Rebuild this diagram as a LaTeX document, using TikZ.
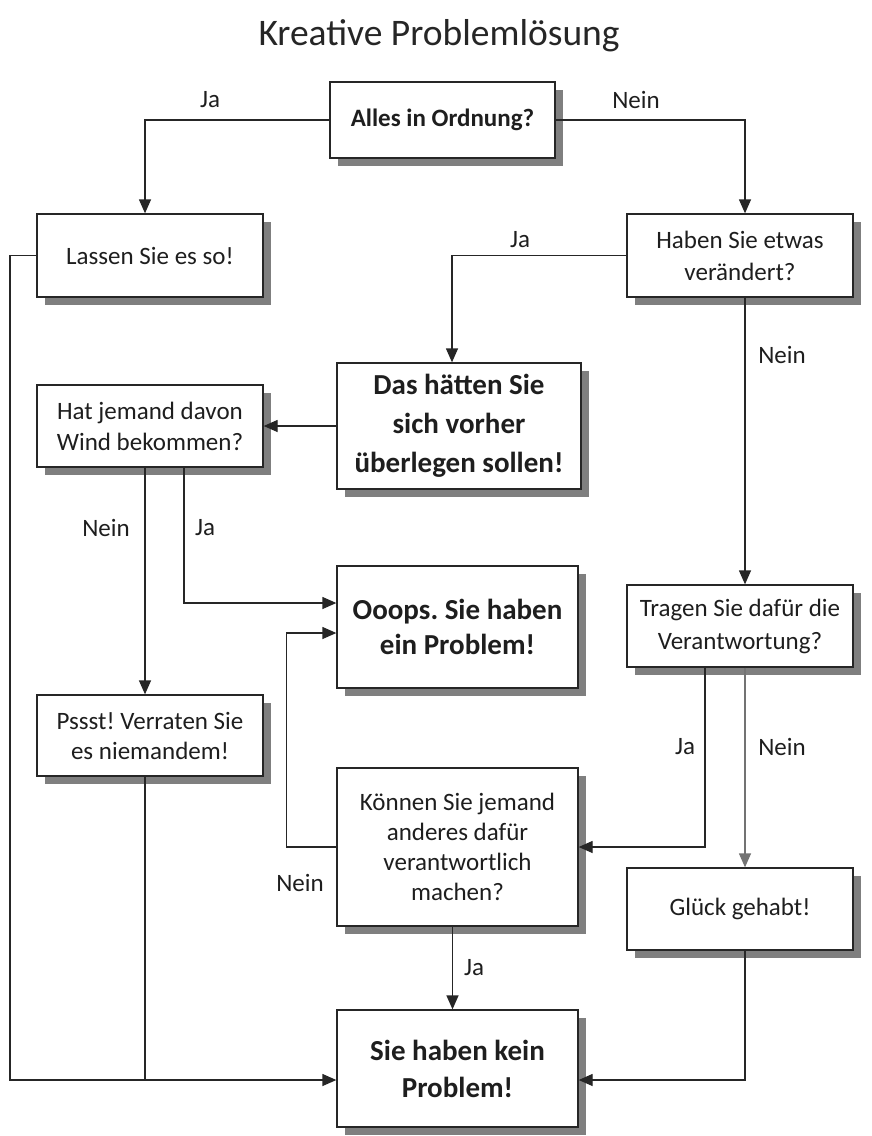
\documentclass[tikz,border=0pt]{standalone}
\usepackage{fontspec}
\setmainfont{Carlito}
\usetikzlibrary{arrows.meta,shadows}
\definecolor{txt}{HTML}{1E1E1E}
\definecolor{shd}{HTML}{7F7F7F}
\frenchspacing
\begin{document}
\begin{tikzpicture}[x=1pt,y=-1pt,
  box/.style={draw=black!85, line width=1.3pt, fill=white, align=center, inner sep=0pt, text=txt,
    font=\fontsize{25}{31}\selectfont,
    drop shadow={shadow xshift=8pt, shadow yshift=-8pt, fill=shd, opacity=1}},
  bbox/.style={box, font=\fontsize{29}{38}\selectfont\bfseries},
  lbl/.style={text=txt, font=\fontsize{25}{30}\selectfont, inner sep=0pt},
  conn/.style={draw=black!85, line width=1.3pt},
  arr/.style={conn, -{Triangle[length=14pt,width=12pt]}}]
\useasboundingbox (0,0) rectangle (872,1136);
\fill[white] (0,0) rectangle (872,1136);

\node[text=black!85, font=\fontsize{37.5}{44}\selectfont, inner sep=0pt] (title) at (439,36) {Kreative Problemlösung};

\node[box, minimum width=225pt, minimum height=76pt, font=\fontsize{25}{31}\selectfont\bfseries] (alles) at (442.5,120) {Alles in Ordnung?};
\node[box, minimum width=226pt, minimum height=83pt] (lassen) at (150,255.5) {Lassen Sie es so!};
\node[box, minimum width=226pt, minimum height=83pt, font=\fontsize{25}{32}\selectfont] (haben) at (740,255.5) {Haben Sie etwas\\verändert?};
\node[bbox, minimum width=244pt, minimum height=126pt, font=\fontsize{29}{39}\selectfont\bfseries] (das) at (459,426) {Das hätten Sie\\sich vorher\\überlegen sollen!};
\node[box, minimum width=226pt, minimum height=82pt] (hat) at (150,426) {Hat jemand davon\\Wind bekommen?};
\node[bbox, minimum width=241pt, minimum height=122pt, font=\fontsize{29}{35}\selectfont\bfseries] (ooops) at (457.5,627) {Ooops. Sie haben\\ein Problem!};
\node[box, minimum width=226pt, minimum height=82pt, font=\fontsize{25}{33}\selectfont] (tragen) at (740,626) {Tragen Sie dafür die\\Verantwortung?};
\node[box, minimum width=226pt, minimum height=81pt, font=\fontsize{25}{30}\selectfont] (pssst) at (150,735.5) {Pssst! Verraten Sie\\es niemandem!};
\node[box, minimum width=241pt, minimum height=158pt, font=\fontsize{25}{30}\selectfont] (koennen) at (457.5,847) {Können Sie jemand\\anderes dafür\\verantwortlich\\machen?};
\node[box, minimum width=226pt, minimum height=82pt] (glueck) at (740,909) {Glück gehabt!};
\node[bbox, minimum width=241pt, minimum height=117pt, font=\fontsize{29}{37}\selectfont\bfseries] (kein) at (457.5,1068.5) {Sie haben kein\\Problem!};

\coordinate (lcorner) at (10,255.5);
\coordinate (join) at (145,1080);

\draw[arr] (alles.west) -| ([xshift=-5pt]lassen.north);
\draw[arr] (alles.east) -| ([xshift=5pt]haben.north);
\draw[arr] (haben.west) -| ([xshift=-7pt]das.north);
\draw[arr] (das.west) -- (hat.east);
\draw[arr] ([xshift=5pt]haben.south) -- ([xshift=5pt]tragen.north);
\draw[arr] ([xshift=-5pt]hat.south) -- ([xshift=-5pt]pssst.north);
\draw[arr] ([xshift=34pt]hat.south) |- ([yshift=24pt]ooops.west);
\draw[arr] (koennen.west) -- ++(-50,0) |- ([yshift=-6pt]ooops.west);
\draw[arr] ([xshift=-35pt]tragen.south) |- (koennen.east);
\draw[arr, draw=black!55] ([xshift=5pt]tragen.south) -- ([xshift=5pt]glueck.north);
\draw[arr] ([xshift=-5pt]koennen.south) -- ([xshift=-5pt]kein.north);
\draw[arr] (lassen.west) -- (lcorner) |- ([yshift=-11.5pt]kein.west);
\draw[conn] ([xshift=-5pt]pssst.south) -- (join);
\draw[arr] ([xshift=5pt]glueck.south) |- ([yshift=-11.5pt]kein.east);

\node[lbl] (l1) at (210,100) {Ja};
\node[lbl] (l2) at (636,100) {Nein};
\node[lbl] (l3) at (520,240) {Ja};
\node[lbl] (l4) at (782,355) {Nein};
\node[lbl] (l5) at (106,528) {Nein};
\node[lbl] (l6) at (205,528) {Ja};
\node[lbl] (l7) at (300,883) {Nein};
\node[lbl] (l8) at (685,747) {Ja};
\node[lbl] (l9) at (782,747) {Nein};
\node[lbl] (l10) at (474,968) {Ja};
\end{tikzpicture}
\end{document}
